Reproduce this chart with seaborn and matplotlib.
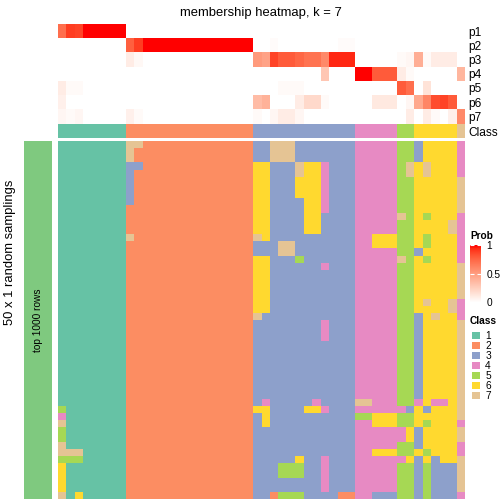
import numpy as np
import pandas as pd
import matplotlib
matplotlib.use("Agg")
import matplotlib.pyplot as plt
from matplotlib.colors import ListedColormap, LinearSegmentedColormap
import seaborn as sns

# ---------------- data ----------------
prob_labels = ["p1", "p2", "p3", "p4", "p5", "p6", "p7"]
p1 = [0.72, 0.90, 0.88, 1, 1, 1, 1, 1,
      0, 0, 0, 0, 0, 0, 0, 0, 0, 0, 0, 0, 0, 0, 0,
      0, 0, 0, 0, 0, 0, 0, 0, 0, 0, 0, 0,
      0, 0, 0, 0, 0, 0, 0, 0, 0, 0, 0, 0, 0]
p2 = [0, 0, 0, 0, 0, 0, 0, 0,
      0.78, 0.90, 1, 1, 1, 1, 1, 1, 1, 1, 1, 1, 1, 1, 1,
      0, 0, 0.02, 0, 0, 0, 0, 0, 0, 0, 0.02, 0.02,
      0, 0, 0, 0, 0, 0, 0, 0, 0, 0, 0, 0, 0]
p3 = [0, 0, 0, 0, 0, 0, 0, 0,
      0.10, 0.04, 0, 0, 0, 0, 0, 0, 0, 0, 0, 0, 0, 0, 0,
      0.52, 0.48, 0.88, 0.80, 0.80, 0.75, 0.70, 0.70, 0.60, 0.95, 0.95, 0.95,
      0, 0, 0, 0, 0, 0.03, 0.05, 0.42, 0.03, 0.10, 0.10, 0.10, 0]
p4 = [0, 0, 0, 0, 0, 0, 0, 0,
      0, 0, 0, 0, 0, 0, 0, 0, 0, 0, 0, 0, 0, 0, 0,
      0, 0, 0, 0, 0, 0, 0, 0, 0.30, 0, 0, 0,
      1, 1, 0.80, 0.80, 0.80, 0.10, 0.03, 0, 0, 0, 0, 0, 0.38]
p5 = [0.10, 0.03, 0.03, 0, 0, 0, 0, 0,
      0, 0, 0, 0, 0, 0, 0, 0, 0, 0, 0, 0, 0, 0, 0,
      0, 0, 0, 0.03, 0.03, 0.03, 0, 0, 0, 0, 0, 0,
      0, 0, 0, 0, 0, 0.80, 0.72, 0, 0.15, 0, 0, 0, 0]
p6 = [0.08, 0, 0, 0, 0, 0, 0, 0,
      0, 0, 0, 0, 0, 0, 0, 0, 0, 0, 0, 0, 0, 0, 0,
      0.35, 0.40, 0, 0, 0, 0.10, 0.20, 0.20, 0.03, 0, 0, 0,
      0, 0, 0.12, 0.12, 0.12, 0, 0.05, 0.45, 0.62, 0.85, 0.88, 0.80, 0]
p7 = [0.05, 0.03, 0.05, 0, 0, 0, 0, 0,
      0.08, 0.03, 0, 0, 0, 0, 0, 0, 0, 0, 0, 0, 0, 0, 0,
      0.03, 0, 0.05, 0.10, 0.10, 0.05, 0, 0, 0, 0, 0, 0,
      0, 0, 0, 0, 0, 0, 0.10, 0, 0.10, 0.03, 0, 0.08, 0.60]

class_names = ["1", "2", "3", "4", "5", "6", "7"]
class_colors = ["#66C2A5", "#FC8D62", "#8DA0CB", "#E78AC3", "#A6D854", "#FFD92F", "#E5C494"]
column_class = [1, 1, 1, 1, 1, 1, 1, 1,
                2, 2, 2, 2, 2, 2, 2, 2, 2, 2, 2, 2, 2, 2, 2,
                3, 3, 3, 3, 3, 3, 3, 3, 3, 3, 3, 3,
                4, 4, 4, 4, 4, 5, 5, 6, 6, 6, 6, 6, 7]

# class assigned in each of the 50 random samplings (rows) for each sample (columns)
samplings = [
    "11111111" "772222222222222" "337773333333" "44444" "55" "36666" "4",
    "11111111" "722222222222222" "337773333333" "44444" "55" "36666" "4",
    "11111111" "722222222222222" "337773333333" "44444" "55" "36666" "4",
    "11111111" "332222222222222" "663337664333" "44444" "57" "67666" "4",
    "11111111" "322222222222222" "663337664333" "44444" "57" "67666" "4",
    "11111111" "322222222222222" "663336664333" "44444" "55" "66666" "7",
    "11111111" "322222222222222" "663336664333" "44444" "55" "66666" "7",
    "11111111" "322222222222222" "663336664333" "44444" "55" "66666" "7",
    "11111111" "322222222222222" "663333664333" "44444" "55" "66666" "7",
    "11111111" "222222222222222" "663333664333" "44444" "55" "66666" "7",
    "11111111" "222222222222222" "663333663333" "44444" "75" "65666" "4",
    "11111111" "222222222222222" "663333663333" "44444" "55" "66667" "4",
    "11111111" "222222222222222" "663333663333" "44444" "55" "66667" "4",
    "11111111" "722222222222222" "763333333333" "44666" "55" "65666" "4",
    "11111111" "222222222222222" "333773333333" "44666" "55" "65666" "4",
    "11111111" "222222222222222" "333773333333" "44444" "55" "36666" "4",
    "11111111" "222222222222222" "663335333333" "44444" "75" "65666" "4",
    "11111111" "222222222222222" "663333334333" "44444" "55" "66666" "7",
    "11111111" "222222222222222" "663333333333" "44444" "55" "66666" "7",
    "11111111" "222222222222222" "663333333333" "44444" "55" "66666" "7",
    "11111111" "222222222222222" "663333333333" "44444" "55" "66666" "7",
    "11111111" "222222222222222" "663333333333" "44444" "55" "66666" "7",
    "11111111" "222222222222222" "663333333333" "44444" "55" "67667" "4",
    "11111111" "222222222222222" "663333333333" "44444" "55" "66667" "4",
    "11111111" "222222222222222" "733333333333" "44444" "55" "36766" "4",
    "11111111" "222222222222222" "333333334333" "44444" "55" "36666" "7",
    "11111111" "222222222222222" "333333334333" "44444" "55" "36666" "7",
    "11111111" "222222222222222" "333333334333" "44444" "55" "36666" "7",
    "11111111" "222222222222222" "333333333333" "44444" "55" "36666" "7",
    "11111111" "222222222222222" "333333333333" "44444" "55" "36666" "7",
    "11111111" "222222222222222" "333333333333" "44444" "55" "36666" "7",
    "11111111" "222222222222222" "333333333333" "44444" "55" "36666" "7",
    "11111111" "222222222222222" "333333333333" "44444" "55" "36666" "7",
    "11111111" "222222222222222" "333333333333" "44444" "55" "36666" "7",
    "11111111" "222222222222222" "333333333333" "44444" "55" "36666" "7",
    "11111111" "222222222222222" "333333333333" "44444" "55" "36666" "7",
    "11111111" "222222222222222" "343333343333" "77444" "55" "46446" "7",
    "51111111" "222222222222222" "663333664333" "44444" "43" "63666" "7",
    "41111111" "222222222222222" "363333333333" "55666" "55" "66666" "7",
    "71111111" "222222222222222" "363333333333" "44666" "55" "65666" "4",
    "51111111" "222222222222222" "333333333333" "44444" "46" "36666" "7",
    "51111111" "222222222222222" "333333333333" "44444" "46" "36666" "7",
    "71111111" "222222222222222" "333333333333" "44444" "55" "36666" "4",
    "77711111" "222222222222222" "333333333333" "44666" "55" "65666" "4",
    "55511111" "222222222222222" "333336334333" "44444" "46" "36366" "7",
    "61111111" "222222222222222" "333555334333" "44444" "55" "35333" "7",
    "61111111" "222222222222222" "333555334333" "44444" "55" "35333" "7",
    "61111111" "222222222222222" "333333334333" "44444" "55" "35333" "7",
    "61111111" "222222222222222" "333333334333" "44444" "55" "35333" "7",
    "71611111" "222222222222222" "332555333322" "44333" "55" "35333" "4",
]
row_group = ["top 1000 rows"] * len(samplings)

# ---------------- helpers ----------------
def srgb_to_lab(rgb):
    c = np.asarray(rgb, float)
    lin = np.where(c <= 0.04045, c / 12.92, ((c + 0.055) / 1.055) ** 2.4)
    M = np.array([[0.4124, 0.3576, 0.1805], [0.2126, 0.7152, 0.0722], [0.0193, 0.1192, 0.9505]])
    xyz = M @ lin / np.array([0.95047, 1.0, 1.08883])
    d = 6 / 29
    f = np.where(xyz > d ** 3, np.cbrt(xyz), xyz / (3 * d * d) + 4 / 29)
    return np.array([116 * f[1] - 16, 500 * (f[0] - f[1]), 200 * (f[1] - f[2])])


def lab_to_srgb(lab):
    L, a, b = lab
    fy = (L + 16) / 116
    fx = fy + a / 500
    fz = fy - b / 200
    d = 6 / 29
    f = np.array([fx, fy, fz])
    xyz = np.where(f > d, f ** 3, 3 * d * d * (f - 4 / 29)) * np.array([0.95047, 1.0, 1.08883])
    Minv = np.linalg.inv(np.array([[0.4124, 0.3576, 0.1805], [0.2126, 0.7152, 0.0722], [0.0193, 0.1192, 0.9505]]))
    lin = np.clip(Minv @ xyz, 0, 1)
    c = np.where(lin <= 0.0031308, 12.92 * lin, 1.055 * lin ** (1 / 2.4) - 0.055)
    return np.clip(c, 0, 1)


lw, lr = srgb_to_lab([1, 1, 1]), srgb_to_lab([1, 0, 0])
prob_cmap = LinearSegmentedColormap.from_list(
    "wr", [lab_to_srgb(lw + (lr - lw) * t) for t in np.linspace(0, 1, 21)])
class_cmap = ListedColormap(class_colors)

W = H = 504.0
def ax_px(fig, x0, y0, x1, y1):
    return fig.add_axes([x0 / W, 1 - y1 / H, (x1 - x0) / W, (y1 - y0) / H])

plt.rcParams['font.family'] = ['Liberation Sans', 'DejaVu Sans']
fig = plt.figure(figsize=(5.04, 5.04), dpi=100)
fig.patch.set_facecolor("white")

X0, X1 = 58, 465
NAME_SIZE = 8.6

# probability annotation
prob_df = pd.DataFrame([p1, p2, p3, p4, p5, p6, p7], index=prob_labels)
ax_p = ax_px(fig, X0, 24, X1, 123.5)
cax = ax_px(fig, 470, 245.5, 481, 302.5)
sns.heatmap(prob_df, ax=ax_p, cmap=prob_cmap, vmin=0, vmax=1, xticklabels=False,
            yticklabels=prob_labels, cbar=True, cbar_ax=cax)
ax_p.yaxis.tick_right()
ax_p.tick_params(axis='y', length=0, pad=2.5, labelsize=NAME_SIZE, labelrotation=0)
for t in ax_p.get_yticklabels():
    t.set_ha('left')

cb = ax_p.collections[0].colorbar
cb.outline.set_visible(False)
cb.set_ticks([0, 0.5, 1])
cb.set_ticklabels(["0", "0.5", "1"])
cax.tick_params(axis='y', which='both', direction='in', left=True, right=True,
                color='white', length=3, width=0.8, labelsize=7.3, pad=4)
fig.text(470 / W, 1 - 236 / H, "Prob", fontsize=7.3, fontweight='bold', va='center', ha='left')

# class annotation
ax_c = ax_px(fig, X0, 124, X1, 138)
sns.heatmap(pd.DataFrame([column_class], index=["Class"]), ax=ax_c, cmap=class_cmap,
            vmin=0.5, vmax=7.5, cbar=False, xticklabels=False, yticklabels=["Class"])
ax_c.yaxis.tick_right()
ax_c.tick_params(axis='y', length=0, pad=2.5, labelsize=NAME_SIZE, labelrotation=0)
for t in ax_c.get_yticklabels():
    t.set_ha('left')

# main body
body = pd.DataFrame([[int(ch) for ch in s] for s in samplings])
ax_b = ax_px(fig, X0, 141, X1, 499)
sns.heatmap(body, ax=ax_b, cmap=class_cmap, vmin=0.5, vmax=7.5, cbar=False,
            xticklabels=False, yticklabels=False)

# row group bar
ax_l = ax_px(fig, 24, 141, 52, 499)
grp = pd.DataFrame({"g": [1 for _ in row_group]})
sns.heatmap(grp, ax=ax_l, cmap=ListedColormap(["#7FC97F"]), cbar=False,
            xticklabels=False, yticklabels=False)
ax_l.text(0.5, 0.5, row_group[0], transform=ax_l.transAxes, rotation=90,
          ha='center', va='center', fontsize=7.3)
fig.text(10.5 / W, 0.5, "50 x 1 random samplings", rotation=90, ha='center', va='center',
         fontsize=9.4)

# title
fig.text(261 / W, 1 - 13 / H, "membership heatmap, k = 7", ha='center', va='center', fontsize=9.4)

# class legend
fig.text(470 / W, 1 - 320.5 / H, "Class", fontsize=7.3, fontweight='bold', va='center', ha='left')
ax_leg = ax_px(fig, 470, 329.5, 481, 400)
sns.heatmap(pd.DataFrame({"c": list(range(1, 8))}), ax=ax_leg, cmap=class_cmap, vmin=0.5, vmax=7.5,
            cbar=False, xticklabels=False, yticklabels=class_names, linewidths=0.8, linecolor='white')
ax_leg.yaxis.tick_right()
ax_leg.tick_params(axis='y', length=0, pad=3, labelsize=7.3, labelrotation=0)

fig.savefig("out.png", dpi=100, facecolor="white")
